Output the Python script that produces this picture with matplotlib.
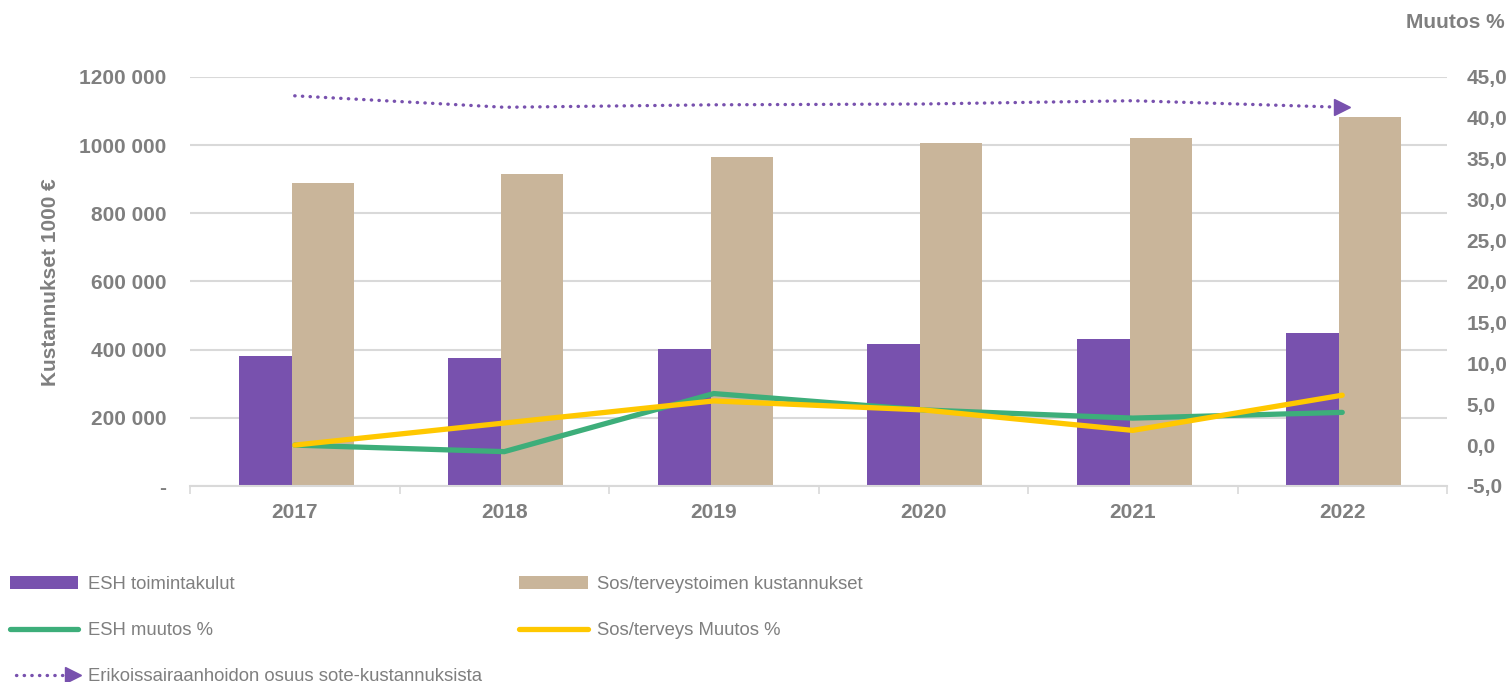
import matplotlib
matplotlib.use("Agg")
import matplotlib.pyplot as plt
import numpy as np
from matplotlib.legend_handler import HandlerLine2D

plt.rcParams['font.family'] = ['Liberation Sans', 'DejaVu Sans']

# data
years = ['2017', '2018', '2019', '2020', '2021', '2022']
esh_costs = [381000, 377000, 401000, 417000, 431000, 448000]
sote_costs = [890000, 915000, 964000, 1005000, 1021000, 1084000]
esh_change = [0.0, -0.8, 6.3, 4.3, 3.3, 4.0]
sote_change = [0.0, 2.7, 5.4, 4.3, 1.8, 6.1]
esh_share = [42.7, 41.3, 41.6, 41.7, 42.1, 41.3]

left_ticks = [0, 200000, 400000, 600000, 800000, 1000000, 1200000]
left_labels = ['-', '200 000', '400 000', '600 000', '800 000', '1000 000', '1200 000']
right_ticks = [-5, 0, 5, 10, 15, 20, 25, 30, 35, 40, 45]

PURPLE = '#7851AE'
TAN = '#C9B59A'
GREEN = '#3DAE7A'
YELLOW = '#FFC800'
GREY = '#7F7F7F'
GRID = '#D9D9D9'


class ArrowEnd(HandlerLine2D):
    # legend key: dotted line with the arrow head only at the right end
    def create_artists(self, *args, **kwargs):
        arts = super().create_artists(*args, **kwargs)
        arts[-1].set_markevery([-1])
        return arts


fig = plt.figure(figsize=(15.11, 6.82), dpi=100)
ax = fig.add_axes([190 / 1511, 196 / 682, (1447 - 190) / 1511, (486 - 77) / 682])
ax2 = ax.twinx()

x = np.arange(len(years))
b1 = ax.bar(x - 0.14, esh_costs, width=0.255, color=PURPLE, label='ESH toimintakulut', zorder=2)
b2 = ax.bar(x + 0.133, sote_costs, width=0.295, color=TAN, label='Sos/terveystoimen kustannukset', zorder=2)

l1, = ax2.plot(x, esh_change, color=GREEN, lw=3.8, solid_capstyle='round',
               solid_joinstyle='miter', label='ESH muutos %')
l2, = ax2.plot(x, sote_change, color=YELLOW, lw=3.8, solid_capstyle='round',
               solid_joinstyle='miter', label='Sos/terveys Muutos %')
l3, = ax2.plot(x, esh_share, color=PURPLE, lw=2.4, linestyle=(0, (0.1, 2.2)),
               dash_capstyle='round', marker='>', markevery=[-1], markersize=11,
               label='Erikoissairaanhoidon osuus sote-kustannuksista')

ax.set_xlim(-0.5, len(years) - 0.5)
ax.set_ylim(0, 1200000)
ax2.set_ylim(-5, 45)

ax.set_yticks(left_ticks)
ax.set_yticklabels(left_labels)
ax2.set_yticks(right_ticks)
ax2.set_yticklabels([f'{v:.1f}'.replace('.', ',') for v in right_ticks])

ax.set_xticks(x)
ax.set_xticklabels(years)
ax.set_xticks(np.arange(-0.5, len(years)), minor=True)
ax.tick_params(axis='x', which='major', length=0, pad=12)
ax.tick_params(axis='x', which='minor', length=6, color=GRID, width=1.2)
ax.tick_params(axis='y', length=0, pad=17)
ax2.tick_params(axis='y', length=0, pad=14)

for a in (ax, ax2):
    for lab in a.get_xticklabels() + a.get_yticklabels():
        lab.set_fontsize(15)
        lab.set_fontweight('bold')
        lab.set_color(GREY)
    for s in a.spines.values():
        s.set_visible(False)
ax.spines['bottom'].set_visible(True)
ax.spines['bottom'].set_color(GRID)
ax.spines['bottom'].set_linewidth(1.5)

ax.grid(axis='y', color=GRID, lw=1.5, zorder=0)
ax.set_axisbelow(True)

fig.text(51 / 1511, 1 - 282 / 682, 'Kustannukset 1000 €', rotation=90, ha='center', va='center',
         fontsize=15, fontweight='bold', color=GREY)
fig.text(1505 / 1511, 1 - 23 / 682, 'Muutos %', ha='right', va='center',
         fontsize=15, fontweight='bold', color=GREY)

leg = fig.legend([b1, l1, l3, b2, l2],
                 [b1.get_label(), l1.get_label(), l3.get_label(), b2.get_label(), l2.get_label()],
                 handler_map={l3: ArrowEnd(numpoints=2)},
                 loc='upper left', bbox_to_anchor=(10 / 1511, 1 - 576 / 682), ncol=2,
                 frameon=False, fontsize=13.3, handlelength=3.7, handletextpad=0.5,
                 columnspacing=2.05, labelspacing=1.57, borderaxespad=0, borderpad=0)
for t in leg.get_texts():
    t.set_color(GREY)

fig.savefig('out.png', dpi=100)
